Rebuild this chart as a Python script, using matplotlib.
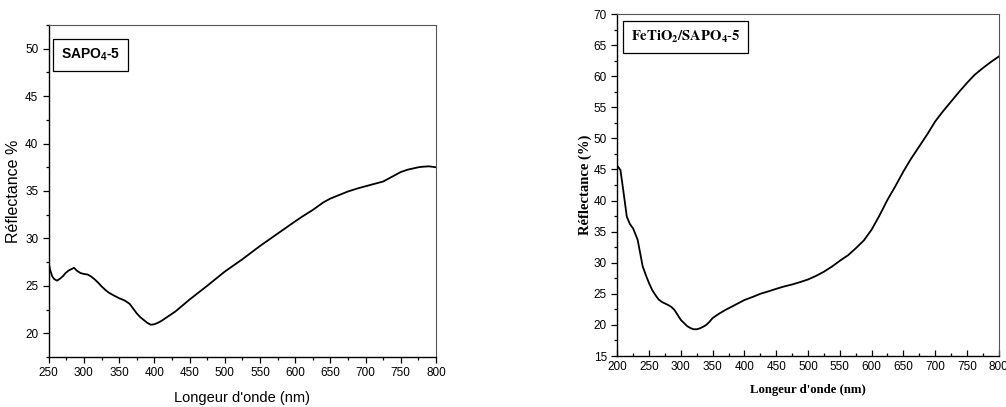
import numpy as np
import matplotlib
matplotlib.use("Agg")
import matplotlib.pyplot as plt
from matplotlib.ticker import MultipleLocator

# SAPO4-5 reflectance
wl_sapo = [250, 252, 255, 258, 262, 266, 270, 274, 278, 282, 286, 290, 295,
           300, 305, 310, 315, 320, 325, 330, 335, 342, 350, 358, 365, 370,
           375, 380, 385, 390, 395, 400, 405, 410, 420, 430, 450, 475, 500,
           525, 550, 575, 600, 610, 625, 640, 650, 660, 675, 690, 700, 710,
           725, 735, 750, 760, 775, 780, 790, 800]
r_sapo = [27.4, 26.7, 26.0, 25.7, 25.55, 25.75, 26.0, 26.35, 26.6, 26.75, 26.9,
          26.6, 26.35, 26.25, 26.2, 26.0, 25.7, 25.35, 24.95, 24.6, 24.3, 24.0,
          23.7, 23.45, 23.1, 22.6, 22.1, 21.7, 21.4, 21.1, 20.9, 20.95, 21.1,
          21.3, 21.8, 22.3, 23.55, 25.0, 26.5, 27.8, 29.2, 30.5, 31.8, 32.3,
          33.0, 33.8, 34.2, 34.5, 34.95, 35.3, 35.5, 35.7, 36.0, 36.4, 37.0,
          37.25, 37.5, 37.55, 37.6, 37.5]

# FeTiO2/SAPO4-5 reflectance
wl_fe = [200, 205, 210, 215, 220, 225, 232, 240, 245, 250, 255, 260, 265, 270,
         275, 280, 285, 290, 295, 300, 305, 310, 315, 320, 325, 330, 335, 340,
         345, 350, 360, 370, 385, 400, 413, 425, 438, 450, 463, 475, 488, 500,
         513, 525, 538, 550, 563, 575, 588, 600, 612, 625, 638, 650, 662, 675,
         688, 700, 712, 725, 738, 750, 762, 775, 788, 800]
r_fe = [45.6, 44.9, 41.2, 37.4, 36.2, 35.5, 33.7, 29.4, 28.0, 26.7, 25.6, 24.8,
        24.1, 23.7, 23.45, 23.2, 22.9, 22.4, 21.6, 20.8, 20.3, 19.8, 19.5, 19.3,
        19.3, 19.45, 19.7, 20.0, 20.5, 21.1, 21.8, 22.4, 23.2, 24.0, 24.5, 25.0,
        25.4, 25.8, 26.2, 26.5, 26.9, 27.3, 27.9, 28.55, 29.4, 30.3, 31.2, 32.3,
        33.6, 35.3, 37.5, 40.1, 42.4, 44.65, 46.7, 48.7, 50.7, 52.7, 54.3, 55.9,
        57.5, 58.9, 60.2, 61.3, 62.3, 63.15]

plt.rcParams.update({
    "font.family": "Liberation Sans",
    "mathtext.fontset": "custom",
    "mathtext.rm": "Liberation Sans:bold",
    "mathtext.bf": "Liberation Sans:bold",
})

fig = plt.figure(figsize=(10.06, 4.07), dpi=100)
ax1 = fig.add_axes([0.0484, 0.1229, 0.385, 0.8157])
ax2 = fig.add_axes([0.6136, 0.1253, 0.3791, 0.8403])

# ---- left panel ----
ax1.plot(wl_sapo, r_sapo, color="black", linewidth=1.3)
ax1.set_xlim(250, 800)
ax1.set_ylim(17.5, 52.5)
ax1.xaxis.set_major_locator(MultipleLocator(50))
ax1.xaxis.set_minor_locator(MultipleLocator(25))
ax1.yaxis.set_major_locator(MultipleLocator(5))
ax1.yaxis.set_minor_locator(MultipleLocator(2.5))
ax1.tick_params(which="both", direction="out", top=False, right=False,
                labelsize=8.5, width=0.9)
ax1.tick_params(which="major", length=4)
ax1.tick_params(which="minor", length=2.5)
for side in ["top", "right"]:
    ax1.spines[side].set_color("#555555")
    ax1.spines[side].set_linewidth(0.8)
for side in ["left", "bottom"]:
    ax1.spines[side].set_linewidth(1.0)
ax1.set_xlabel("Longeur d'onde (nm)", fontsize=10.5, labelpad=8)
ax1.set_ylabel("Réflectance %", fontsize=11.5, labelpad=3)
ax1.text(0.031, 0.91, r"$\mathbf{SAPO}_{\mathbf{4}}\mathbf{\text{-}5}$",
         transform=ax1.transAxes, fontsize=10, va="center", ha="left",
         bbox=dict(facecolor="white", edgecolor="black", linewidth=0.9,
                   boxstyle="square,pad=0.55"))

# ---- right panel ----
ax2.plot(wl_fe, r_fe, color="black", linewidth=1.3)
ax2.set_xlim(200, 800)
ax2.set_ylim(15, 70)
ax2.xaxis.set_major_locator(MultipleLocator(50))
ax2.xaxis.set_minor_locator(MultipleLocator(25))
ax2.yaxis.set_major_locator(MultipleLocator(5))
ax2.yaxis.set_minor_locator(MultipleLocator(2.5))
ax2.tick_params(axis="y", which="both", direction="out", right=False,
                labelsize=8.5, width=0.9)
ax2.tick_params(axis="x", which="both", direction="in", top=False,
                labelsize=8.5, width=0.9)
ax2.tick_params(which="major", length=4)
ax2.tick_params(which="minor", length=2.5)
for side in ["top", "right"]:
    ax2.spines[side].set_color("#555555")
    ax2.spines[side].set_linewidth(0.8)
for side in ["left", "bottom"]:
    ax2.spines[side].set_linewidth(1.0)
ax2.set_xlabel("Longeur d'onde (nm)", fontsize=9.2, fontfamily="Liberation Serif",
               fontweight="bold", labelpad=8)
ax2.set_ylabel("Réflectance (%)", fontsize=10.5, fontfamily="Liberation Serif",
               fontweight="bold", labelpad=1)
t = ax2.text(0.035, 0.932, r"$\mathbf{FeTiO}_{\mathbf{2}}\mathbf{/SAPO}_{\mathbf{4}}\mathbf{\text{-}5}$",
             transform=ax2.transAxes, fontsize=10.5, va="center", ha="left",
             bbox=dict(facecolor="white", edgecolor="black", linewidth=0.9,
                       boxstyle="square,pad=0.55"))
t.set_math_fontfamily("stix")

fig.savefig("out.png", dpi=100)
